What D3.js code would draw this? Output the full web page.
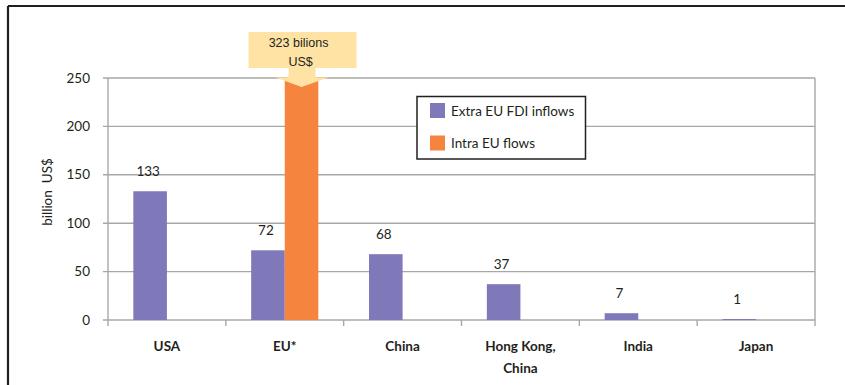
<!DOCTYPE html>
<html>
<head>
<meta charset="utf-8">
<script src="https://cdn.jsdelivr.net/npm/d3@7"></script>
<style>
  html, body { margin: 0; padding: 0; background: #fff; }
  svg { display: block; }
</style>
</head>
<body>
<svg id="chart" width="845" height="385"></svg>
<script>
// FDI inflows by economy, billion US$
const categories = ["USA", "EU*", "China", "Hong Kong,\nChina", "India", "Japan"];
const seriesNames = ["Extra EU FDI inflows", "Intra EU flows"];
const extraEU = [133, 72, 68, 37, 7, 1];
const intraEU = [null, 323, null, null, null, null];
const yTicks = [0, 50, 100, 150, 200, 250];
const calloutText = ["323 bilions", "US$"];

const colors = { "Extra EU FDI inflows": "#7F78B9", "Intra EU flows": "#F5843E" };
const gridColor = "#A7A7A9";
const textFont = "Lato, 'Open Sans', sans-serif";

const svg = d3.select("#chart");
const W = 845, H = 385;

// outer frame (top and left rules)
svg.append("line").attr("x1", 8).attr("x2", W).attr("y1", 6).attr("y2", 6)
  .attr("stroke", "#231F20").attr("stroke-width", 2.2);
svg.append("line").attr("x1", 8).attr("x2", 8).attr("y1", 6).attr("y2", H)
  .attr("stroke", "#231F20").attr("stroke-width", 2.2);

const plot = { left: 108, right: 815, top: 78, bottom: 320 };

const x = d3.scaleBand().domain(categories).range([plot.left, plot.right]).padding(0);
const y = d3.scaleLinear().domain([0, 250]).range([plot.bottom, plot.top]).clamp(true);
const groupW = x.bandwidth() * 0.57;
const x1 = d3.scaleBand().domain(seriesNames)
  .range([(x.bandwidth() - groupW) / 2, (x.bandwidth() + groupW) / 2]).padding(0);

// gridlines
svg.append("g").selectAll("line").data(yTicks).join("line")
  .attr("x1", plot.left - 5).attr("x2", plot.right)
  .attr("y1", d => y(d)).attr("y2", d => y(d))
  .attr("stroke", gridColor).attr("stroke-width", 1.4);

// y axis line and right border
svg.append("line").attr("x1", plot.left).attr("x2", plot.left)
  .attr("y1", plot.top).attr("y2", plot.bottom + 6)
  .attr("stroke", gridColor).attr("stroke-width", 1.4);
svg.append("line").attr("x1", plot.right).attr("x2", plot.right)
  .attr("y1", plot.top).attr("y2", plot.bottom + 6)
  .attr("stroke", gridColor).attr("stroke-width", 1.4);

// category boundary ticks
const bounds = categories.map(c => x(c)).slice(1);
svg.append("g").selectAll("line").data(bounds).join("line")
  .attr("x1", d => d).attr("x2", d => d)
  .attr("y1", plot.bottom).attr("y2", plot.bottom + 6)
  .attr("stroke", gridColor).attr("stroke-width", 1.4);

// y tick labels
svg.append("g").selectAll("text").data(yTicks).join("text")
  .attr("x", 90).attr("y", d => y(d) + 4.5)
  .attr("text-anchor", "end")
  .attr("font-family", textFont).attr("font-size", 13.5).attr("fill", "#231F20")
  .text(d => d);

// y axis title
svg.append("text")
  .attr("transform", "translate(52,192) rotate(-90)")
  .attr("text-anchor", "middle")
  .attr("font-family", textFont).attr("font-size", 13.5).attr("fill", "#231F20")
  .attr("xml:space", "preserve")
  .text("billion  US$");

// bars
const rows = categories.map((c, i) => ({ cat: c, values: [
  { s: seriesNames[0], v: extraEU[i] },
  { s: seriesNames[1], v: intraEU[i] }
].filter(d => d.v != null) }));

const groups = svg.append("g").selectAll("g").data(rows).join("g")
  .attr("transform", d => `translate(${x(d.cat)},0)`);

groups.selectAll("rect").data(d => d.values).join("rect")
  .attr("x", d => x1(d.s))
  .attr("width", x1.bandwidth())
  .attr("y", d => y(d.v))
  .attr("height", d => y(0) - y(d.v))
  .attr("fill", d => colors[d.s]);

// value labels for extra-EU inflows
groups.append("text")
  .attr("x", x1(seriesNames[0]) + x1.bandwidth() / 2 - 2)
  .attr("y", (d, i) => y(extraEU[i]) - 15)
  .attr("text-anchor", "middle")
  .attr("font-family", textFont).attr("font-size", 13.5).attr("fill", "#231F20")
  .text((d, i) => extraEU[i]);

// category labels
const catLabels = svg.append("g").selectAll("text").data(categories).join("text")
  .attr("text-anchor", "middle")
  .attr("font-family", textFont).attr("font-size", 13.5).attr("font-weight", "bold")
  .attr("fill", "#231F20");
catLabels.each(function(d) {
  const lines = d.split("\n");
  const t = d3.select(this);
  lines.forEach((ln, k) => {
    t.append("tspan").attr("x", x(d) + x.bandwidth() / 2).attr("y", 351 + k * 22).text(ln);
  });
});

// callout for the off-scale intra-EU bar
const euIdx = 1;
const cx = x(categories[euIdx]) + x1(seriesNames[1]) + x1.bandwidth() / 2;
const callout = svg.append("g");
callout.append("path")
  .attr("d", [
    `M${cx - 53},32`, `L${cx + 55},32`, `L${cx + 55},68`,
    `L${cx + 14},68`, `L${cx + 14},77.5`, `L${cx + 27},77.5`,
    `L${cx},87`, `L${cx - 26},77.5`, `L${cx - 13},77.5`,
    `L${cx - 13},68`, `L${cx - 53},68`, "Z"
  ].join(" "))
  .attr("fill", "#FFE3A4");
callout.selectAll("text").data(calloutText).join("text")
  .attr("x", (d, i) => cx - 3 + i * 2)
  .attr("y", (d, i) => 47 + i * 19)
  .attr("text-anchor", "middle")
  .attr("font-family", "'Liberation Sans', Arial, sans-serif").attr("font-size", 12.5)
  .attr("fill", "#231F20")
  .text(d => d);

// legend
const legend = svg.append("g");
legend.append("rect").attr("x", 417).attr("y", 96.5).attr("width", 168.5).attr("height", 62.5)
  .attr("fill", "#fff").attr("stroke", "#231F20").attr("stroke-width", 1.5);
const li = legend.selectAll("g").data(seriesNames).join("g")
  .attr("transform", (d, i) => `translate(430,${103 + i * 32.5})`);
li.append("rect").attr("width", 15).attr("height", 15).attr("fill", d => colors[d]);
li.append("text").attr("x", 21).attr("y", 12.5)
  .attr("font-family", textFont).attr("font-size", 13.5).attr("fill", "#231F20")
  .text(d => d);
</script>
</body>
</html>
